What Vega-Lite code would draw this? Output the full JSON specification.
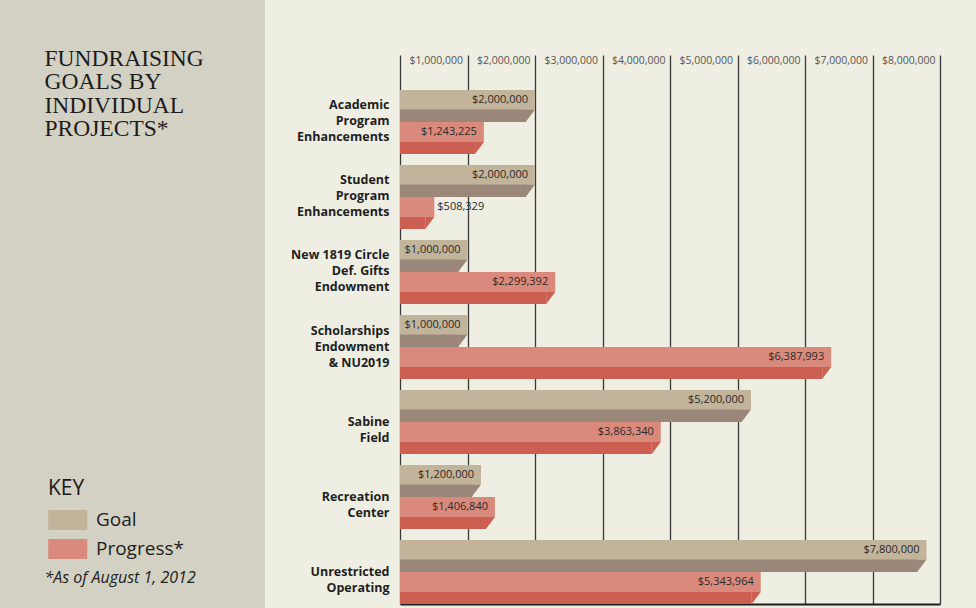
{
  "$schema": "https://vega.github.io/schema/vega-lite/v6.json",
  "background": "#EFEEE3",
  "padding": {"left": 0, "top": 0, "right": 36, "bottom": 0},
  "bounds": "flush",
  "spacing": 135,
  "config": {"view": {"stroke": null}, "font": "Open Sans"},
  "resolve": {"scale": {"color": "independent"}, "legend": {"color": "independent"}},
  "hconcat": [
    {
      "width": 265,
      "height": 608,
      "view": {"fill": "#D3D1C4", "stroke": null},
      "data": {"values": []},
      "mark": {"type": "text"},
      "title": {
        "text": ["FUNDRAISING", "GOALS BY", "INDIVIDUAL", "PROJECTS*"],
        "subtitle": "*As of August 1, 2012",
        "orient": "top",
        "anchor": "start",
        "frame": "group",
        "offset": -586,
        "dx": 44.5,
        "font": "Liberation Serif",
        "fontSize": 23.5,
        "fontWeight": "normal",
        "color": "#1c1c1c",
        "lineHeight": 23.6,
        "subtitleFont": "Open Sans",
        "subtitleFontSize": 16,
        "subtitleFontStyle": "italic",
        "subtitleColor": "#222222",
        "subtitlePadding": 429
      }
    },
    {
      "width": 540,
      "height": 604,
      "data": {
        "values": [
          {"project": "Academic Program Enhancements", "series": "Goal", "value": 2000000},
          {"project": "Academic Program Enhancements", "series": "Progress", "value": 1243225},
          {"project": "Student Program Enhancements", "series": "Goal", "value": 2000000},
          {"project": "Student Program Enhancements", "series": "Progress", "value": 508329},
          {"project": "New 1819 Circle Def. Gifts Endowment", "series": "Goal", "value": 1000000},
          {"project": "New 1819 Circle Def. Gifts Endowment", "series": "Progress", "value": 2299392},
          {"project": "Scholarships Endowment & NU2019", "series": "Goal", "value": 1000000},
          {"project": "Scholarships Endowment & NU2019", "series": "Progress", "value": 6387993},
          {"project": "Sabine Field", "series": "Goal", "value": 5200000},
          {"project": "Sabine Field", "series": "Progress", "value": 3863340},
          {"project": "Recreation Center", "series": "Goal", "value": 1200000},
          {"project": "Recreation Center", "series": "Progress", "value": 1406840},
          {"project": "Unrestricted Operating", "series": "Goal", "value": 7800000},
          {"project": "Unrestricted Operating", "series": "Progress", "value": 5343964}
        ]
      },
      "encoding": {
        "y": {
          "field": "project",
          "type": "nominal",
          "sort": ["Academic Program Enhancements", "Student Program Enhancements", "New 1819 Circle Def. Gifts Endowment", "Scholarships Endowment & NU2019", "Sabine Field", "Recreation Center", "Unrestricted Operating"],
          "scale": {"paddingInner": 0.1467, "paddingOuter": 0.6, "align": 1},
          "axis": {
            "title": null,
            "domain": false,
            "ticks": false,
            "grid": false,
            "labelPadding": 11,
            "labelFont": "Open Sans",
            "labelFontWeight": "bold",
            "labelFontSize": 12.5,
            "labelColor": "#1e1e1e",
            "labelLineHeight": 16,
            "labelBaseline": "top",
            "labelOffset": {
              "condition": {"test": "datum.value == 'Sabine Field' || datum.value == 'Recreation Center' || datum.value == 'Unrestricted Operating'", "value": -6},
              "value": -22.5
            },
            "labelLimit": 0,
            "labelExpr": "datum.label == 'New 1819 Circle Def. Gifts Endowment' ? ['New 1819 Circle', 'Def. Gifts', 'Endowment'] : datum.label == 'Scholarships Endowment & NU2019' ? ['Scholarships', 'Endowment', '& NU2019'] : split(datum.label, ' ')"
          }
        }
      },
      "resolve": {"axis": {"x": "independent"}},
      "layer": [
        {
          "transform": [{"filter": "datum.series == 'Goal'"}],
          "mark": {"type": "bar", "color": "#9B8779", "height": 32, "yOffset": -16, "xOffset": -9},
          "encoding": {
            "x": {
              "field": "value",
              "type": "quantitative",
              "scale": {"domain": [0, 8000000], "nice": false},
              "axis": {
                "orient": "top",
                "offset": -55,
                "values": [0, 1000000, 2000000, 3000000, 4000000, 5000000, 6000000, 7000000, 8000000],
                "labelExpr": "datum.value == 0 ? '' : format(datum.value, '$,.0f')",
                "labelAlign": "right",
                "labelOffset": -5,
                "labelBaseline": "middle",
                "labelPadding": 544,
                "labelFontSize": 10.5,
                "labelColor": "#555555",
                "labelFlush": false,
                "labelOverlap": false,
                "labelBound": false,
                "tickSize": -549,
                "tickColor": "#3a3a3a",
                "tickWidth": 1.3,
                "domain": false,
                "grid": false,
                "title": null,
                "zindex": 0
              }
            },
            "x2": {"datum": 0}
          }
        },
        {
          "transform": [{"filter": "datum.series == 'Goal'"}],
          "mark": {"type": "bar", "height": 19.5, "yOffset": -22.25},
          "encoding": {
            "x": {
              "field": "value",
              "type": "quantitative",
              "axis": {"orient": "bottom", "labels": false, "ticks": false, "grid": false, "domain": true, "domainColor": "#1e1e1e", "domainWidth": 2, "title": null}
            },
            "x2": {"datum": 0},
            "color": {
              "field": "series",
              "type": "nominal",
              "scale": {"domain": ["Goal", "Progress"], "range": ["#C2B49B", "#D98A7C"]},
              "legend": {
                "title": "KEY",
                "orient": "none",
                "legendX": -352,
                "legendY": 478,
                "padding": 0,
                "titleFont": "Open Sans",
                "titleFontSize": 21,
                "titleFontWeight": "normal",
                "titleColor": "#1a1a1a",
                "titlePadding": 11,
                "symbolType": "M-1,-1.026 L3,-1.026 L3,1.026 L-1,1.026 Z",
                "symbolSize": 380,
                "symbolStrokeWidth": 0,
                "symbolOpacity": 1,
                "labelFont": "Open Sans",
                "labelFontSize": 19,
                "labelColor": "#1e1e1e",
                "labelOffset": 28,
                "rowPadding": 7,
                "labelLimit": 0,
                "labelExpr": "datum.label == 'Progress' ? 'Progress*' : datum.label"
              }
            }
          }
        },
        {
          "transform": [{"filter": "datum.series == 'Goal'"}],
          "mark": {"type": "point", "shape": "M-1.5,-1 L0,-1 L-1.5,1 Z", "filled": true, "size": 156.25, "color": "#9B8779", "opacity": 1, "strokeWidth": 0, "yOffset": -6.25},
          "encoding": {"x": {"field": "value", "type": "quantitative", "axis": null}}
        },
        {
          "transform": [{"filter": "datum.series == 'Progress'"}],
          "mark": {"type": "bar", "color": "#CC5F51", "height": 32, "yOffset": 16, "xOffset": -9},
          "encoding": {"x": {"field": "value", "type": "quantitative", "axis": null}, "x2": {"datum": 0}}
        },
        {
          "transform": [{"filter": "datum.series == 'Progress'"}],
          "mark": {"type": "bar", "color": "#D98A7C", "height": 20, "yOffset": 10},
          "encoding": {"x": {"field": "value", "type": "quantitative", "axis": null}, "x2": {"datum": 0}}
        },
        {
          "transform": [{"filter": "datum.series == 'Progress'"}],
          "mark": {"type": "point", "shape": "M-1.5,-1 L0,-1 L-1.5,1 Z", "filled": true, "size": 144, "color": "#CC5F51", "opacity": 1, "strokeWidth": 0, "yOffset": 26},
          "encoding": {"x": {"field": "value", "type": "quantitative", "axis": null}}
        },
        {
          "transform": [{"filter": "datum.series == 'Goal'"}],
          "mark": {"type": "text", "align": "right", "dx": -7, "baseline": "middle", "fontSize": 11, "color": "#2a2a2a", "yOffset": -22.25},
          "encoding": {"x": {"field": "value", "type": "quantitative", "axis": null}, "text": {"field": "value", "type": "quantitative", "format": "$,.0f"}}
        },
        {
          "transform": [{"filter": "datum.series == 'Progress' && datum.value >= 700000"}],
          "mark": {"type": "text", "align": "right", "dx": -7, "baseline": "middle", "fontSize": 11, "color": "#2a2a2a", "yOffset": 10},
          "encoding": {"x": {"field": "value", "type": "quantitative", "axis": null}, "text": {"field": "value", "type": "quantitative", "format": "$,.0f"}}
        },
        {
          "transform": [{"filter": "datum.series == 'Progress' && datum.value < 700000"}],
          "mark": {"type": "text", "align": "left", "dx": 3, "baseline": "middle", "fontSize": 11, "color": "#2a2a2a", "yOffset": 10},
          "encoding": {"x": {"field": "value", "type": "quantitative", "axis": null}, "text": {"field": "value", "type": "quantitative", "format": "$,.0f"}}
        }
      ]
    }
  ]
}
